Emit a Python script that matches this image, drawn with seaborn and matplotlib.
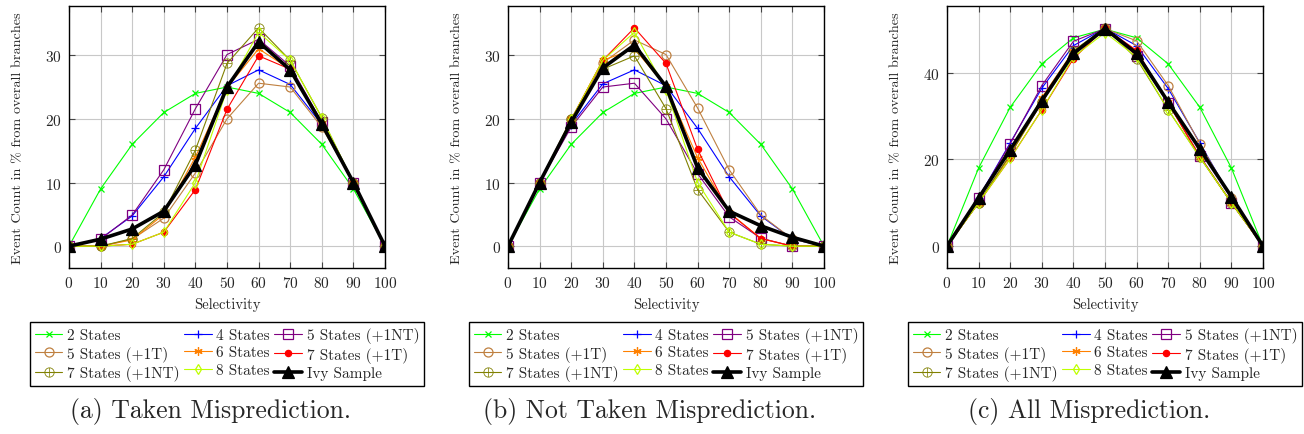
import matplotlib
matplotlib.use("Agg")
import matplotlib.pyplot as plt
import seaborn as sns
import numpy as np

sns.set_theme(style="white")
plt.rcParams['font.family'] = ['cmr10', 'DejaVu Serif']
plt.rcParams['axes.formatter.use_mathtext'] = True
plt.rcParams['mathtext.fontset'] = 'cm'

selectivity = [0, 10, 20, 30, 40, 50, 60, 70, 80, 90, 100]

series_names = ["2 States", "4 States", "5 States (+1NT)", "5 States (+1T)", "6 States",
                "7 States (+1T)", "7 States (+1NT)", "8 States", "Ivy Sample"]

# (a) Taken Misprediction
taken_2s    = [0, 9, 16, 21, 24, 25, 24, 21, 16, 9, 0]
taken_4s    = [0, 1.2, 4.75, 10.9, 18.5, 25.2, 27.7, 25.4, 19.1, 10, 0]
taken_5nt   = [0, 1.1, 4.9, 12.0, 21.6, 30.1, 32.5, 28.3, 19.5, 10, 0]
taken_5t    = [0, 0, 1.1, 4.4, 11.5, 20.0, 25.6, 25.0, 18.7, 10, 0]
taken_6s    = [0, 0, 1.0, 5.0, 14.0, 24.9, 31.0, 27.8, 19.4, 10, 0]
taken_7t    = [0, 0, 0.3, 2.2, 8.9, 21.5, 29.9, 27.8, 19.4, 10, 0]
taken_7nt   = [0, 0, 1.2, 5.3, 15.1, 28.7, 34.3, 29.2, 20.2, 10, 0]
taken_8s    = [0, 0, 0.3, 2.2, 10.0, 24.6, 33.6, 29.2, 20.2, 10, 0]
taken_ivy   = [0, 1.1, 2.7, 5.5, 12.8, 25.0, 32.1, 27.7, 19.2, 10, 0]

# (b) Not Taken Misprediction
ntaken_2s   = [0, 9, 16, 21, 24, 25, 24, 21, 16, 9, 0]
ntaken_4s   = [0, 10, 19.1, 25.5, 27.7, 25.2, 18.5, 10.9, 4.75, 1.1, 0]
ntaken_5nt  = [0, 10, 18.7, 25.0, 25.6, 20.0, 11.4, 4.6, 1.25, 0, 0]
ntaken_5t   = [0, 10, 19.9, 28.8, 32.4, 30.1, 21.7, 12.0, 4.9, 1.1, 0]
ntaken_6s   = [0, 10, 19.9, 29.2, 31.0, 25.1, 13.9, 5.3, 1.2, 0, 0]
ntaken_7t   = [0, 10, 19.9, 29.2, 34.3, 28.7, 15.2, 5.2, 1.2, 0, 0]
ntaken_7nt  = [0, 10, 19.9, 27.8, 29.9, 21.6, 8.9, 2.2, 0.3, 0, 0]
ntaken_8s   = [0, 10, 19.9, 29.2, 33.6, 24.6, 10.0, 2.2, 0.3, 0, 0]
ntaken_ivy  = [0, 10, 19.5, 28.0, 31.6, 25.1, 12.3, 5.5, 3.2, 1.4, 0]

# (c) All Misprediction
all_2s      = [0, 18, 32, 42, 48, 50, 48, 42, 32, 18, 0]
all_4s      = [0, 11.2, 23.8, 36.4, 46.2, 50.2, 46.2, 36.3, 23.8, 11.1, 0]
all_5nt     = [0, 11.1, 23.6, 37.0, 47.2, 50.1, 43.9, 32.9, 20.8, 10, 0]
all_5t      = [0, 10, 21.0, 33.2, 43.9, 50.1, 47.3, 37.0, 23.6, 11.1, 0]
all_6s      = [0, 10, 20.9, 34.2, 45.0, 50.0, 44.9, 33.1, 20.6, 10, 0]
all_7t      = [0, 10, 20.2, 31.4, 43.2, 50.2, 45.1, 33.0, 20.6, 10, 0]
all_7nt     = [0, 10, 21.1, 33.1, 45.0, 50.3, 43.2, 31.4, 20.5, 10, 0]
all_8s      = [0, 10, 20.2, 31.4, 43.6, 49.2, 43.6, 31.4, 20.5, 10, 0]
all_ivy     = [0, 11.1, 22.2, 33.5, 44.4, 50.1, 44.4, 33.2, 22.4, 11.4, 0]

panels = [
    ("(a) Taken Misprediction.", [taken_2s, taken_4s, taken_5nt, taken_5t, taken_6s,
                                  taken_7t, taken_7nt, taken_8s, taken_ivy], [0, 10, 20, 30]),
    ("(b) Not Taken Misprediction.", [ntaken_2s, ntaken_4s, ntaken_5nt, ntaken_5t, ntaken_6s,
                                      ntaken_7t, ntaken_7nt, ntaken_8s, ntaken_ivy], [0, 10, 20, 30]),
    ("(c) All Misprediction.", [all_2s, all_4s, all_5nt, all_5t, all_6s,
                                all_7t, all_7nt, all_8s, all_ivy], [0, 20, 40]),
]

colors = ["#00ff00", "#0000ff", "#800080", "#bf8040", "#ff8000",
          "#ff0000", "#808000", "#bfff00", "#000000"]
styles = [
    dict(marker="x", mfc="none", ms=4, lw=0.8, mew=0.9),
    dict(marker="+", mfc="none", ms=6, lw=0.8, mew=0.9),
    dict(marker="s", mfc="none", ms=6.5, lw=0.8, mew=0.9),
    dict(marker="o", mfc="none", ms=6.5, lw=0.8, mew=0.9),
    dict(marker=(6, 2, 0), mfc="none", ms=6, lw=0.8, mew=0.9),
    dict(marker="o", ms=4.5, lw=0.8, mew=0.9),
    dict(marker=r"$\oplus$", ms=7, lw=0.8, mew=0.2),
    dict(marker="d", mfc="none", ms=5.5, lw=0.8, mew=0.9),
    dict(marker="^", ms=8, lw=2.6, mew=0.9),
]

W, H = 1304, 435
fig = plt.figure(figsize=(W / 100, H / 100), dpi=100)
lefts = [69, 508, 947]
ax_w, ax_top, ax_bot = 316, 7, 269

for i, (caption, data, yticks) in enumerate(panels):
    ax = fig.add_axes([lefts[i] / W, 1 - ax_bot / H, ax_w / W, (ax_bot - ax_top) / H])
    for name, vals, col, st in zip(series_names, data, colors, styles):
        kw = dict(st)
        if kw.get("mfc") is None:
            kw["mfc"] = col
        sns.lineplot(x=selectivity, y=vals, ax=ax, label=name, color=col,
                     markeredgecolor=col, dashes=False,
                     zorder=5 if name == "Ivy Sample" else 3, **kw)
    mx = max(max(v) for v in data)
    ax.set_xlim(0, 100)
    ax.set_ylim(-0.1 * mx, 1.1 * mx)
    ax.set_xticks(selectivity)
    ax.set_yticks(yticks)
    ax.grid(True, color="#c8c8c8", lw=0.8)
    ax.set_axisbelow(True)
    for s in ax.spines.values():
        s.set_color("black")
        s.set_linewidth(1.0)
    ax.tick_params(direction="in", length=4, width=0.8, color="#444444",
                   top=True, right=True, bottom=True, left=True, labelsize=11, pad=5)
    ax.set_xlabel("Selectivity", fontsize=10.5, labelpad=5)
    ax.set_ylabel("Event Count in % from overall branches", fontsize=10.2, labelpad=15)
    handles, labels = ax.get_legend_handles_labels()
    order = [0, 3, 6, 1, 4, 7, 2, 5, 8]
    leg = ax.legend([handles[k] for k in order], [labels[k] for k in order], ncol=3,
                    loc="upper center", bbox_to_anchor=(0.5, -0.178), fontsize=11,
                    frameon=True, fancybox=False, edgecolor="black", framealpha=1,
                    handlelength=1.8, handletextpad=0.3, columnspacing=0.3,
                    labelspacing=0.25, borderpad=0.3)
    leg.get_frame().set_linewidth(1.0)
    cx = (lefts[i] + ax_w / 2 - 16) / W
    fig.text(cx, 1 - 412 / H, caption, ha="center", va="center", fontsize=18.5)

fig.savefig("out.png", dpi=100)
